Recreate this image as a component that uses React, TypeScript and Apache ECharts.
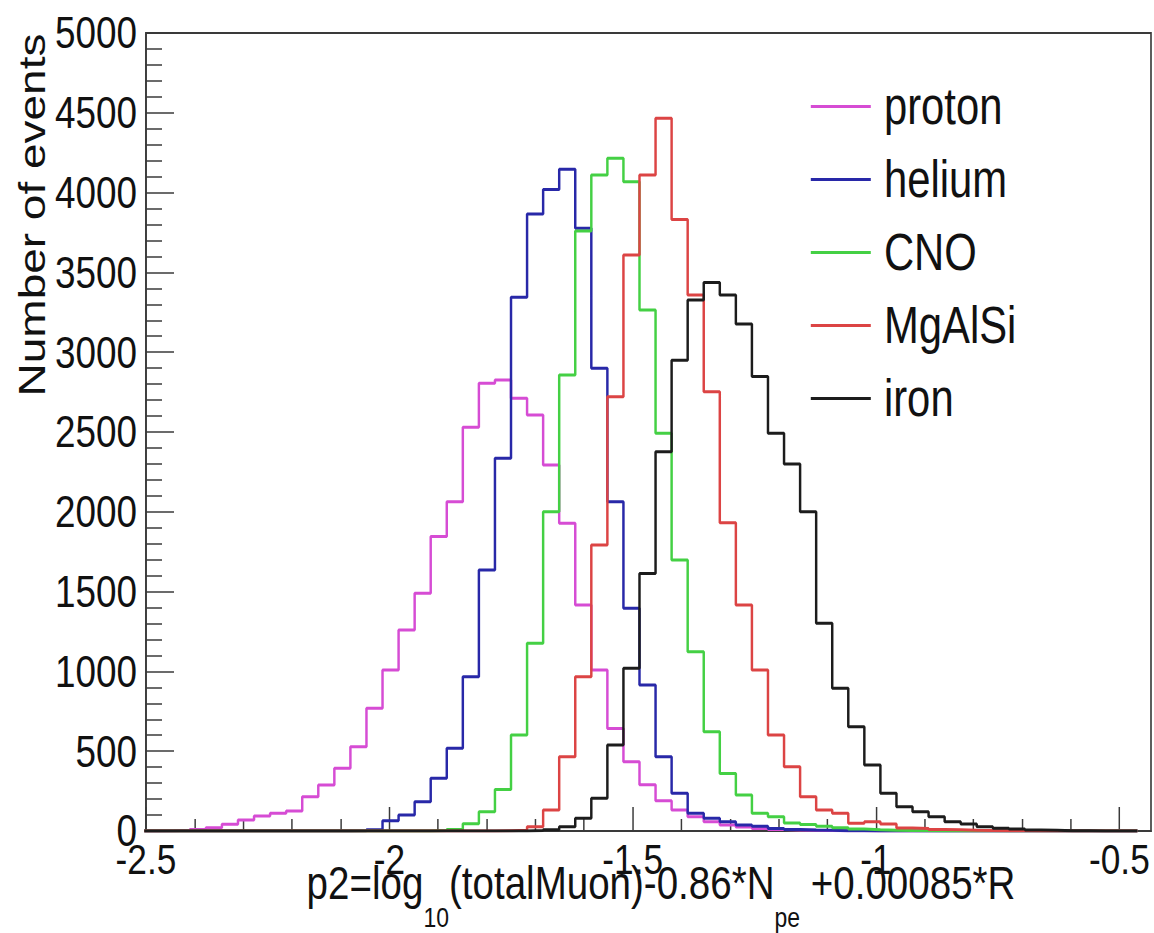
import React, { useEffect, useRef } from "react";
import * as echarts from "echarts";

// Histogram binning (x value of the first bin's left edge, bin width)
const BIN_START = -2.509;
const BIN_WIDTH = 0.033;

// Bin contents (62 bins)
const proton = [0, 1, 4, 10, 20, 42, 69, 94, 111, 125, 215, 288, 393, 528, 769, 1009, 1260, 1489, 1845, 2063, 2530, 2805, 2826, 2711, 2607, 2293, 1928, 1416, 1009, 643, 434, 290, 190, 132, 90, 58, 38, 25, 15, 10, 6, 4, 3, 2, 1, 0, 0, 0, 0, 0, 0, 0, 0, 0, 0, 0, 0, 0, 0, 0, 0, 0];
const helium = [0, 0, 0, 0, 0, 0, 0, 0, 0, 0, 0, 0, 0, 2, 8, 65, 100, 184, 330, 518, 967, 1635, 2335, 3344, 3866, 4020, 4146, 3776, 2899, 2063, 1395, 915, 466, 236, 111, 80, 58, 38, 30, 15, 10, 6, 4, 2, 1, 0, 0, 0, 0, 0, 0, 0, 0, 0, 0, 0, 0, 0, 0, 0, 0, 0];
const cno = [0, 0, 0, 0, 0, 0, 0, 0, 0, 0, 0, 0, 0, 0, 0, 0, 0, 0, 3, 10, 45, 120, 260, 601, 1176, 2001, 2857, 3760, 4110, 4215, 4068, 3264, 2492, 1698, 1123, 622, 361, 225, 111, 90, 50, 40, 30, 20, 12, 8, 5, 3, 2, 0, 0, 0, 0, 0, 0, 0, 0, 0, 0, 0, 0, 0];
const mgalsi = [0, 0, 0, 0, 0, 0, 0, 0, 0, 0, 0, 0, 0, 0, 0, 0, 0, 0, 0, 0, 0, 0, 2, 5, 27, 132, 466, 967, 1792, 2721, 3609, 4110, 4466, 3832, 3358, 2752, 1932, 1416, 1009, 601, 403, 215, 132, 111, 48, 58, 44, 19, 15, 10, 8, 5, 3, 2, 1, 0, 0, 0, 0, 0, 0, 0];
const iron = [0, 0, 0, 0, 0, 0, 0, 0, 0, 0, 0, 0, 0, 0, 0, 0, 0, 0, 0, 0, 0, 0, 0, 0, 3, 8, 27, 80, 205, 539, 1019, 1614, 2377, 2949, 3327, 3436, 3358, 3177, 2847, 2492, 2300, 2000, 1301, 894, 653, 414, 236, 152, 121, 90, 58, 44, 27, 17, 12, 6, 4, 2, 1, 0, 0, 0];

const seriesNames = ["proton", "helium", "CNO", "MgAlSi", "iron"];
const seriesValues = [proton, helium, cno, mgalsi, iron];
const seriesColors = ["#d64cd4", "#2828a8", "#44d044", "#dc4444", "#1c1c1c"];

const xMajorTicks = [-2.5, -2, -1.5, -1, -0.5];
const xMinorTicks = [-2.4, -2.3, -2.2, -2.1, -1.9, -1.8, -1.7, -1.6, -1.4, -1.3, -1.2, -1.1, -0.9, -0.8, -0.7, -0.6];

const X_MIN = -2.5;
const X_MAX = -0.435;
const Y_MIN = 0;
const Y_MAX = 5000;
const Y_STEP = 500;

const SANS = "'Liberation Sans', Arial, sans-serif";

// The original figure is horizontally compressed; the chart is drawn wider and squeezed.
const SX = 0.82;
const PAGE_W = 1154;
const PAGE_H = 933;
const CHART_W = Math.round(PAGE_W / SX);
const px = (v: number) => v / SX;

function histSteps(values: number[]) {
  const pts: number[][] = [];
  values.forEach((v, k) => {
    const a = +(BIN_START + k * BIN_WIDTH).toFixed(4);
    const b = +(BIN_START + (k + 1) * BIN_WIDTH).toFixed(4);
    pts.push([a, v], [b, v]);
  });
  return pts;
}

export default function App() {
  const ref = useRef<HTMLDivElement>(null);
  useEffect(() => {
    if (!ref.current) return;
    const chart = echarts.init(ref.current, null, { renderer: "svg" });
    const axisColor = "#3a3a3a";
    chart.setOption({
      animation: false,
      backgroundColor: "#ffffff",
      grid: {
        left: px(146),
        top: 33,
        width: px(1151) - px(146),
        height: 798,
        show: true,
        borderColor: axisColor,
        borderWidth: 2,
        backgroundColor: "transparent",
      },
      legend: {
        orient: "vertical",
        left: px(806.7),
        top: 76,
        itemWidth: px(60),
        itemHeight: 3,
        itemGap: 22,
        icon: "rect",
        data: seriesNames,
        textStyle: {
          fontSize: 51,
          lineHeight: 51,
          fontFamily: SANS,
          color: "#111",
          padding: [0, 0, 0, 11],
        },
      },
      xAxis: [
        {
          type: "value",
          min: X_MIN,
          max: X_MAX,
          position: "bottom",
          axisLine: { show: true, onZero: false, lineStyle: { color: axisColor, width: 2 } },
          axisTick: {
            show: true,
            inside: true,
            length: 24,
            customValues: xMajorTicks,
            lineStyle: { color: axisColor, width: 1.8 },
          },
          axisLabel: {
            customValues: xMajorTicks,
            fontSize: 43,
            fontFamily: SANS,
            color: "#111",
            margin: 6,
            formatter: (v: number) => String(v),
          },
          splitLine: { show: false },
        },
        {
          type: "value",
          min: X_MIN,
          max: X_MAX,
          position: "bottom",
          axisLine: { show: false },
          axisTick: {
            show: true,
            inside: true,
            length: 12,
            customValues: xMinorTicks,
            lineStyle: { color: axisColor, width: 1.8 },
          },
          axisLabel: { show: false },
          splitLine: { show: false },
        },
      ],
      yAxis: {
        type: "value",
        min: Y_MIN,
        max: Y_MAX,
        interval: Y_STEP,
        axisLine: { show: true, lineStyle: { color: axisColor, width: 2 } },
        axisTick: { show: true, inside: true, length: px(28), lineStyle: { color: axisColor, width: 1.5 } },
        minorTick: { show: true, splitNumber: 5, length: px(16), lineStyle: { color: axisColor, width: 1.5 } },
        axisLabel: {
          fontSize: 45,
          fontFamily: SANS,
          color: "#111",
          margin: px(9),
          formatter: (v: number) => String(v),
        },
        splitLine: { show: false },
      },
      series: seriesNames.map((name, i) => ({
        name,
        type: "line",
        xAxisIndex: 0,
        data: histSteps(seriesValues[i]),
        showSymbol: false,
        symbol: "none",
        clip: true,
        color: seriesColors[i],
        lineStyle: { color: seriesColors[i], width: 3 },
      })),
      graphic: [
        {
          type: "text",
          x: px(32),
          y: 215,
          rotation: Math.PI / 2,
          style: {
            text: "Number of events",
            fontSize: 46,
            fontFamily: SANS,
            fill: "#111",
            align: "center",
            verticalAlign: "middle",
            textAlign: "center",
            textVerticalAlign: "middle",
          },
        },
        {
          type: "text",
          x: px(661),
          y: 883,
          style: {
            text: "{m|p2=log}{s|10}{m|(totalMuon)-0.86*N}{s|pe}{m| +0.00085*R}",
            fill: "#111",
            align: "center",
            verticalAlign: "middle",
            textAlign: "center",
            textVerticalAlign: "middle",
            rich: {
              m: { fontSize: 47, lineHeight: 47, fontFamily: SANS, fill: "#111" },
              s: { fontSize: 28, lineHeight: 28, fontFamily: SANS, fill: "#111", padding: [68, 0, 0, 0] },
            },
          },
        },
      ],
    });
    return () => chart.dispose();
  }, []);
  return (
    <div
      ref={ref}
      style={{
        position: "fixed",
        left: 0,
        top: 0,
        width: CHART_W,
        height: PAGE_H,
        background: "#fff",
        transform: `scaleX(${SX})`,
        transformOrigin: "0 0",
      }}
    />
  );
}
